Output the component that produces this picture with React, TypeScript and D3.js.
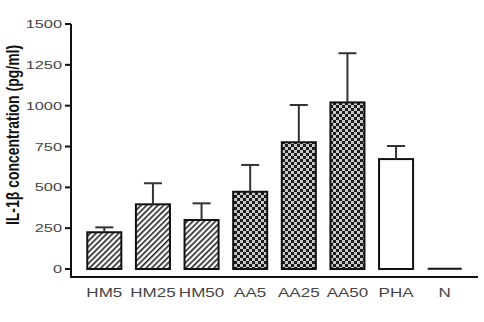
import React from "react";
import * as d3 from "d3";

const categories = ["HM5", "HM25", "HM50", "AA5", "AA25", "AA50", "PHA", "N"];
const means = [225, 396, 300, 473, 776, 1020, 673, 2];
const errors = [30, 129, 102, 164, 228, 301, 80, 0];
const fills = ["hatch", "hatch", "hatch", "check", "check", "check", "white", "none"];
const yTicks = [0, 250, 500, 750, 1000, 1250, 1500];

export default function App() {
  const W = 484, H = 322;
  const x = d3.scaleBand<string>().domain(categories).range([71, 478]).paddingInner(0.3).paddingOuter(0.335);
  const y = d3.scaleLinear().domain([0, 1500]).range([269, 24]);
  const bw = x.bandwidth();
  const axisY = 277;
  const sx = 1.42;
  const fillFor = (f: string) => f === "hatch" ? "url(#hatch)" : f === "check" ? "url(#check)" : "#fff";
  return (
    <svg width={W} height={H} style={{ position: "absolute", left: 0, top: 0, background: "#fff" }} fontFamily="Liberation Sans, Arial, sans-serif">
      <defs>
        <pattern id="hatch" width="4" height="4" patternUnits="userSpaceOnUse" patternTransform="rotate(45)">
          <rect width="4" height="4" fill="#fff" />
          <rect x="0" y="0" width="1.6" height="4" fill="#222" />
        </pattern>
        <pattern id="check" width="6" height="6" patternUnits="userSpaceOnUse">
          <rect width="6" height="6" fill="#1c1c1c" />
          <rect x="0" y="0" width="3" height="3" fill="#c8c8c8" />
          <rect x="3" y="3" width="3" height="3" fill="#c8c8c8" />
        </pattern>
      </defs>
      {/* y axis */}
      <line x1={71} x2={71} y1={y(1500)} y2={axisY} stroke="#111" strokeWidth={2} />
      {yTicks.map(t => (
        <g key={t}>
          <line x1={65} x2={71} y1={y(t)} y2={y(t)} stroke="#111" strokeWidth={2} />
          <text transform={`translate(62,${y(t)}) scale(${sx},1)`} dy="0.35em" textAnchor="end" fontSize={11.5} fill="#444">{t}</text>
        </g>
      ))}
      {/* x axis */}
      <line x1={70} x2={478} y1={axisY} y2={axisY} stroke="#111" strokeWidth={2} />
      {categories.map((c, i) => {
        const x0 = x(c)!;
        const yt = y(means[i]);
        const cx = x0 + bw / 2;
        return (
          <g key={c}>
            {fills[i] === "none" ? (
              <line x1={x0} x2={x0 + bw} y1={yt} y2={yt} stroke="#111" strokeWidth={2} />
            ) : (
              <rect x={x0} y={yt} width={bw} height={y(0) - yt} fill={fillFor(fills[i])} stroke="#111" strokeWidth={2} />
            )}
            {errors[i] > 0 && (
              <g stroke="#333" strokeWidth={2}>
                <line x1={cx} x2={cx} y1={yt} y2={y(means[i] + errors[i])} />
                <line x1={cx - 9} x2={cx + 9} y1={y(means[i] + errors[i])} y2={y(means[i] + errors[i])} />
              </g>
            )}
            <text transform={`translate(${cx},297) scale(${sx},1)`} textAnchor="middle" fontSize={12} fill="#444">{c}</text>
          </g>
        );
      })}
      <text transform={`translate(19,135) scale(1.3,1) rotate(-90)`} textAnchor="middle" fontSize={14} fontWeight="bold" fill="#111">IL-1β concentration (pg/ml)</text>
    </svg>
  );
}
